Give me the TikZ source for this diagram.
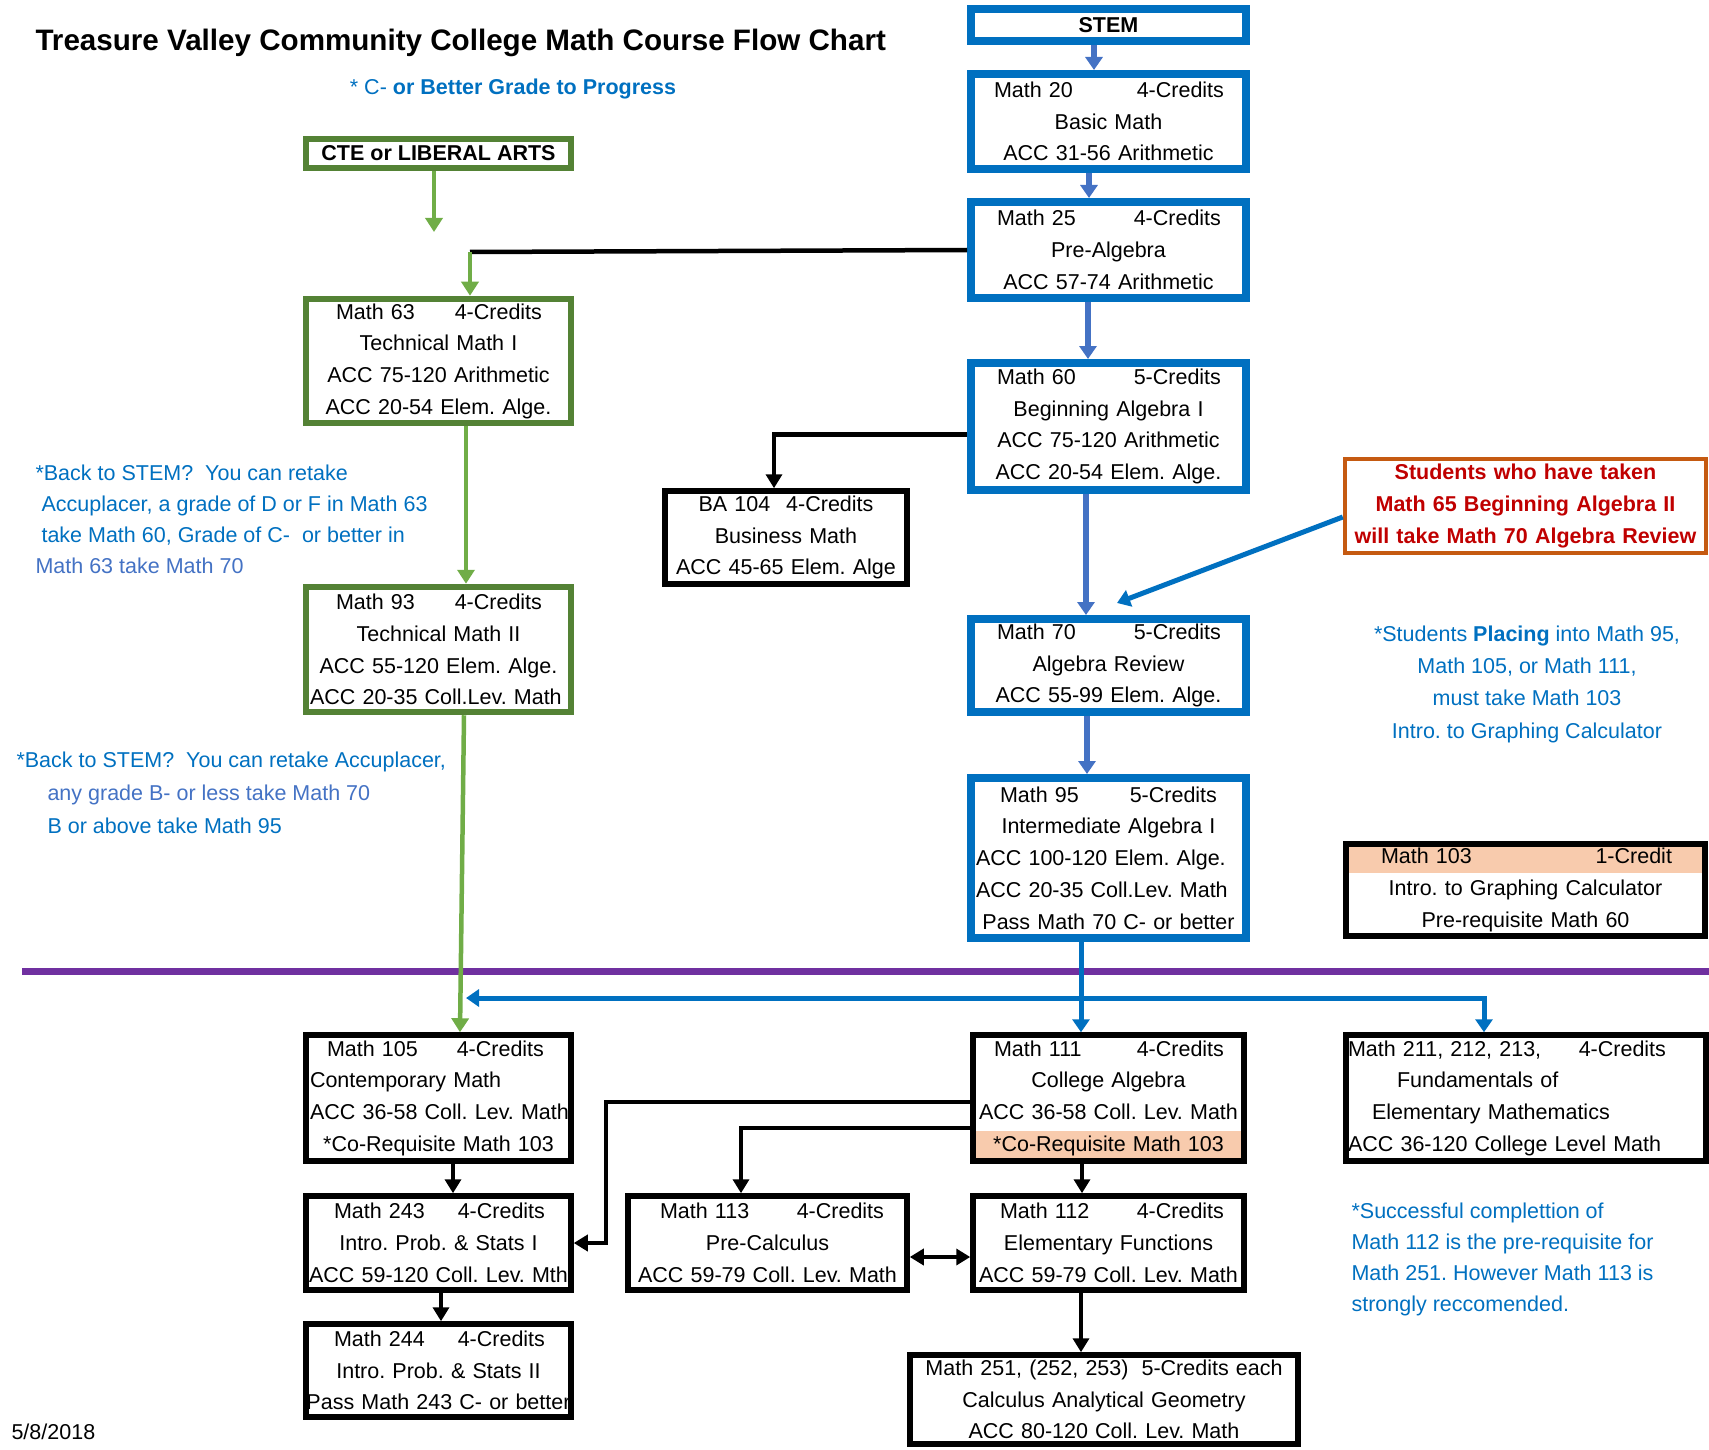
\documentclass[tikz,border=0pt]{standalone}
\usepackage{fontspec}
\setmainfont{Liberation Sans}
\usepackage{xcolor}
\definecolor{stemblue}{RGB}{0,112,192}
\definecolor{arrowblue}{RGB}{68,114,196}
\definecolor{ctegreen}{RGB}{84,130,53}
\definecolor{lightgreen}{RGB}{112,173,71}
\definecolor{notered}{RGB}{192,0,0}
\definecolor{noteorange}{RGB}{197,90,17}
\definecolor{peach}{RGB}{248,203,173}
\definecolor{linepurple}{RGB}{112,48,160}
\usepackage{tikz}
\usetikzlibrary{arrows.meta}
\frenchspacing
\newcommand{\boxfont}{\fontsize{21.5}{31.7}\selectfont\frenchspacing}
\newcommand{\credline}[4]{\makebox[\linewidth]{\hspace*{#1pt}#2\hfill#3\hspace*{#4pt}}}
\newcommand{\lftline}[1]{\makebox[\linewidth][l]{#1}}
\newcommand{\wideline}[1]{\makebox[\linewidth]{#1}}

\begin{document}
\begin{tikzpicture}[x=1pt, y=-1pt,
    box/.style={draw=black, line width=5.5pt, fill=white, inner sep=0pt, align=center, font=\boxfont},
    stembox/.style={box, draw=stemblue, line width=8pt},
    ctebox/.style={box, draw=ctegreen, line width=6.5pt},
    notebox/.style={box, draw=noteorange, line width=4.5pt, text=notered, font=\boxfont\bfseries},
    stemarrow/.style={-{Triangle[width=17pt,length=13pt]}, line width=5.5pt, arrowblue},
    collarrow/.style={-{Triangle[width=17pt,length=13pt]}, line width=5pt, stemblue},
    ctearrow/.style={-{Triangle[width=17pt,length=14pt]}, line width=4.5pt, lightgreen},
    blackarrow/.style={-{Triangle[width=16pt,length=14pt]}, line width=4.5pt},
    bothways/.style={{Triangle[width=16pt,length=14pt]}-{Triangle[width=16pt,length=14pt]}, line width=4.5pt},
    bluenote/.style={text=stemblue, align=left}]
\useasboundingbox (0,0) rectangle (1709,1450);

% Title and grade note
\node[anchor=west, font=\fontsize{29.6}{35}\selectfont\bfseries] (title) at (32,43) {Treasure Valley Community College Math Course Flow Chart};
\node[text=stemblue, font=\boxfont] (grade) at (513,89) {* C- \textbf{or Better Grade to Progress}};

% STEM column
\node[stembox, minimum width=275pt, minimum height=32pt, font=\boxfont\bfseries] (stem) at (1108.5,25) {STEM};
\node[stembox, minimum width=275pt, minimum height=95pt, text width=265pt] (m20) at (1108.5,121.5) {\credline{18}{Math 20}{4-Credits}{17}\\Basic Math\\ACC 31-56 Arithmetic};
\node[stembox, minimum width=275pt, minimum height=96pt, text width=265pt] (m25) at (1108.5,250) {\credline{21}{Math 25}{4-Credits}{20}\\Pre-Algebra\\ACC 57-74 Arithmetic};
\node[stembox, minimum width=275pt, minimum height=127pt, text width=265pt] (m60) at (1108.5,426.5) {\credline{21}{Math 60}{5-Credits}{20}\\Beginning Algebra I\\ACC 75-120 Arithmetic\\ACC 20-54 Elem. Alge.};
\node[stembox, minimum width=275pt, minimum height=93pt, text width=265pt] (m70) at (1108.5,665.5) {\credline{21}{Math 70}{5-Credits}{20}\\Algebra Review\\ACC 55-99 Elem. Alge.};
\node[stembox, minimum width=275pt, minimum height=160pt, text width=265pt] (m95) at (1108.5,858) {\credline{24}{Math 95}{5-Credits}{24}\\Intermediate Algebra I\\\lftline{ACC 100-120 Elem. Alge.}\\\lftline{ACC 20-35 Coll.Lev. Math}\\Pass Math 70 C- or better};

% CTE column
\node[ctebox, minimum width=265pt, minimum height=29pt, font=\boxfont\bfseries] (cte) at (438.5,153.5) {CTE or LIBERAL ARTS};
\node[ctebox, minimum width=265pt, minimum height=124pt, text width=257pt] (m63) at (438.5,361) {\credline{26}{Math 63}{4-Credits}{25}\\Technical Math I\\ACC 75-120 Arithmetic\\ACC 20-54 Elem. Alge.};
\node[ctebox, minimum width=265pt, minimum height=125pt, text width=257pt] (m93) at (438.5,649.5) {\credline{26}{Math 93}{4-Credits}{25}\\Technical Math II\\ACC 55-120 Elem. Alge.\\\lftline{ACC 20-35 Coll.Lev. Math}};
\node[box, minimum width=242pt, minimum height=93pt, text width=232pt] (ba104) at (786,537.5) {BA 104\hspace{16pt}4-Credits\\Business Math\\ACC 45-65 Elem. Alge};

% Side notes
\node[bluenote, anchor=west, font=\fontsize{21.5}{31}\selectfont] (back63) at (32,519.5) {*Back to STEM?\ \ You can retake\\\hspace*{6pt}Accuplacer, a grade of D or F in Math 63\\\hspace*{6pt}take Math 60, Grade of C-\ \ or better in\\\textcolor{arrowblue}{Math 63 take Math 70}};
\node[bluenote, anchor=west, font=\fontsize{21.5}{33}\selectfont] (back93) at (13,793) {*Back to STEM?\ \ You can retake Accuplacer,\\\hspace*{31pt}\textcolor{arrowblue}{any grade B- or less take Math 70}\\\hspace*{31pt}B or above take Math 95};
\node[notebox, minimum width=361pt, minimum height=94pt, text width=351pt] (note65) at (1525.5,506) {Students who have taken\\Math 65 Beginning Algebra II\\will take Math 70 Algebra Review};
\node[bluenote, align=center, font=\fontsize{21.5}{32.3}\selectfont] (placing) at (1527,684) {*Students \textbf{Placing} into Math 95,\\Math 105, or Math 111,\\must take Math 103\\Intro. to Graphing Calculator};
\node[box, minimum width=359pt, minimum height=92pt, text width=351pt,
      path picture={\fill[peach] (path picture bounding box.north west) rectangle ([yshift=-29pt]path picture bounding box.north east);}] (m103) at (1525.5,890) {\credline{31}{Math 103}{1-Credit}{29}\\Intro. to Graphing Calculator\\Pre-requisite Math 60};

% College level
\draw[linepurple, line width=7pt] (22,971) -- (1709,971);
\node[box, minimum width=265pt, minimum height=126pt, text width=257pt] (m105) at (438.5,1098) {\credline{17}{Math 105}{4-Credits}{23}\\\lftline{Contemporary Math}\\\lftline{ACC 36-58 Coll. Lev. Math}\\{}*Co-Requisite Math 103};
\node[box, minimum width=265pt, minimum height=94pt, text width=257pt] (m243) at (438.5,1243) {\credline{24}{Math 243}{4-Credits}{22}\\Intro. Prob. \& Stats I\\\wideline{ACC 59-120 Coll. Lev. Mth}};
\node[box, minimum width=265pt, minimum height=93pt, text width=257pt] (m244) at (438.5,1370.5) {\credline{24}{Math 244}{4-Credits}{22}\\Intro. Prob. \& Stats II\\\wideline{Pass Math 243 C- or better}};
\node[box, minimum width=279pt, minimum height=94pt, text width=271pt] (m113) at (767.5,1243) {\credline{28}{Math 113}{4-Credits}{19}\\Pre-Calculus\\\wideline{ACC 59-79 Coll. Lev. Math}};
\node[box, minimum width=271pt, minimum height=126pt, text width=263pt,
      path picture={\fill[peach] ([yshift=30pt]path picture bounding box.south west) rectangle (path picture bounding box.south east);}] (m111) at (1108.5,1098) {\credline{17}{Math 111}{4-Credits}{16}\\College Algebra\\\wideline{ACC 36-58 Coll. Lev. Math}\\{}*Co-Requisite Math 103};
\node[box, minimum width=271pt, minimum height=94pt, text width=263pt] (m112) at (1108.5,1243) {\credline{23}{Math 112}{4-Credits}{16}\\Elementary Functions\\\wideline{ACC 59-79 Coll. Lev. Math}};
\node[box, minimum width=388pt, minimum height=89pt, text width=378pt] (m251) at (1104,1399.5) {Math 251, (252, 253)\hspace{13pt}5-Credits each\\Calculus Analytical Geometry\\ACC 80-120 Coll. Lev. Math};
\node[box, minimum width=360pt, minimum height=126pt, text width=356pt, align=left] (m211) at (1526,1098) {\makebox[318pt]{Math 211, 212, 213,\hfill4-Credits}\\\hspace*{49pt}Fundamentals of\\\hspace*{24pt}Elementary Mathematics\\ACC 36-120 College Level Math};
\node[bluenote, anchor=west, font=\fontsize{21.5}{31}\selectfont] (success) at (1348,1259.5) {*Successful complettion of\\Math 112 is the pre-requisite for\\Math 251. However Math 113 is\\strongly reccomended.};
\node[anchor=west, font=\boxfont] (date) at (8,1432) {5/8/2018};

% Connectors
\foreach \a/\b/\dx in {stem/m20/-14.5, m20/m25/-19.5, m25/m60/-20.5, m60/m70/-22.5, m70/m95/-21.5}
    \draw[stemarrow] ([xshift=\dx pt]\a.south) -- ([xshift=\dx pt]\b.north);
\coordinate (cteend) at (434,232);
\coordinate (join63) at (470,252);
\draw[ctearrow] ([xshift=-4.5pt]cte.south) -- (cteend);
\draw[line width=4.5pt] (m25.west) -- (join63);
\draw[ctearrow] (join63) -- (join63 |- m63.north);
\draw[ctearrow] ([xshift=27.5pt]m63.south) -- ([xshift=27.5pt]m93.north);
\draw[ctearrow] ([xshift=25.5pt]m93.south) -- ([xshift=21.5pt]m105.north);
\draw[blackarrow] ([yshift=-8pt]m60.west) -| ([xshift=-12pt]ba104.north);
\coordinate (m70tip) at (1117,603);
\draw[collarrow] ([yshift=-11pt]note65.west) -- (m70tip);
\coordinate (fork) at (1081,998);
\coordinate (leftend) at (466,998);
\draw[collarrow] ([xshift=-27.5pt]m95.south) -- ([xshift=-27.5pt]m111.north);
\draw[collarrow] (fork) -- (leftend);
\draw[collarrow] (fork) -| ([xshift=-42pt]m211.north);
\foreach \a/\b/\dx in {m105/m243/14.5, m243/m244/2.5, m111/m112/-26.5}
    \draw[blackarrow] ([xshift=\dx pt]\a.south) -- ([xshift=\dx pt]\b.north);
\draw[blackarrow] ([xshift=-27.5pt]m112.south) -- ([xshift=-23pt]m251.north);
\coordinate (turn243) at (606,1243);
\draw[blackarrow] ([yshift=-4pt]m111.west) -| (turn243) -- (m243.east);
\draw[blackarrow] ([yshift=-30pt]m111.west) -| ([xshift=-26.5pt]m113.north);
\draw[bothways] ([yshift=-14pt]m113.east) -- ([yshift=-14pt]m112.west);
\end{tikzpicture}
\end{document}
